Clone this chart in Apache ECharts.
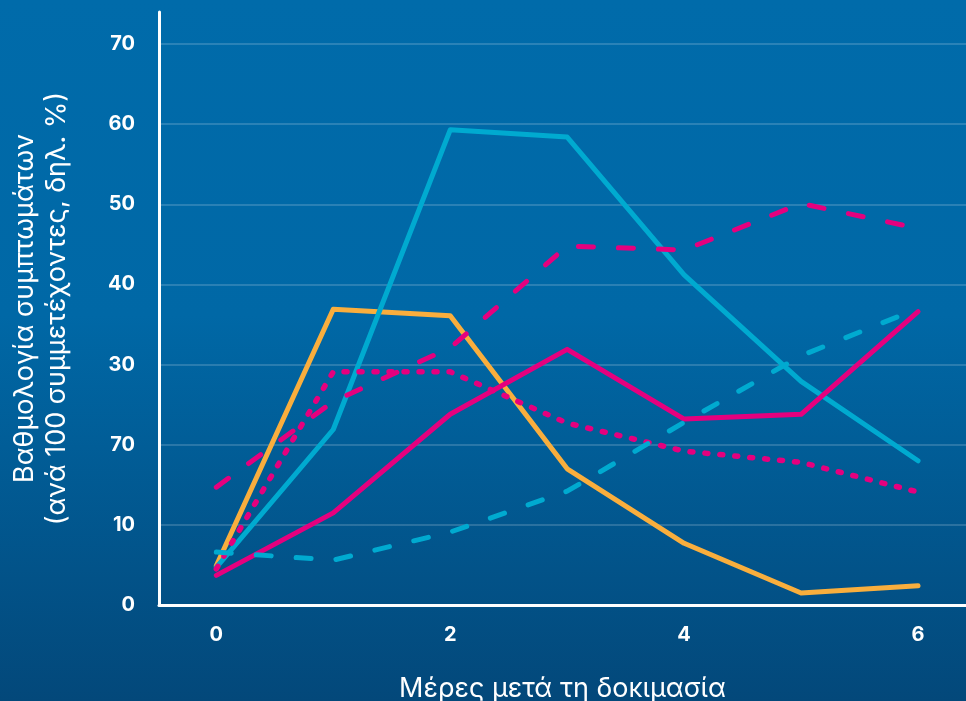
<!DOCTYPE html>
<html>
<head>
<meta charset="utf-8">
<script src="https://cdn.jsdelivr.net/npm/echarts@6/dist/echarts.min.js"></script>
<style>
html,body{margin:0;padding:0;width:966px;height:701px;overflow:hidden;}
#chart{width:966px;height:701px;}
</style>
</head>
<body>
<div id="chart"></div>
<script>
// Days after test
const days = [0, 1, 2, 3, 4, 5, 6];
const xTickValues = [0, 2, 4, 6];
// y tick labels as printed in the reference (third label is printed "70")
const yTickValues = [0, 10, 20, 30, 40, 50, 60, 70];
const yTickLabels = ['0', '10', '70', '30', '40', '50', '60', '70'];

// Series values (symptom score per 100 participants)
const orangeSolid = [4.9, 36.9, 36.1, 17.0, 7.7, 1.5, 2.4];
const cyanSolid   = [4.7, 21.9, 59.3, 58.4, 41.2, 27.9, 18.0];
const pinkSolid   = [3.7, 11.5, 23.8, 31.9, 23.2, 23.8, 36.6];
const pinkDashed  = [14.7, 25.4, 32.1, 44.8, 44.3, 50.1, 47.0];
const pinkDotted  = [4.5, 29.1, 29.1, 22.7, 19.2, 17.8, 14.1];
const cyanDashed  = [6.6, 5.6, 9.1, 14.2, 22.8, 31.1, 37.0];

const xTitle = 'Μέρες μετά τη δοκιμασία';
const yTitle = 'Βαθμολογία συμπτωμάτων\n(ανά 100 συμμετέχοντες, δηλ. %)';

const ORANGE = '#F9AE3D', CYAN = '#00AAD0', PINK = '#E5007E';
const FONT = 'Inter, "Noto Sans", sans-serif';

function pairs(arr){ return days.map((d,i)=>[d, arr[i]]); }
function line(name, arr, color, dash, z, w){
  return {
    name, type:'line', data:pairs(arr), symbol:'none', z,
    lineStyle:{color, width:w || 5, type: dash || 'solid', cap:'round', join:'round'},
    emphasis:{disabled:true}, animation:false
  };
}

const chart = echarts.init(document.getElementById('chart'));
chart.setOption({
  backgroundColor: new echarts.graphic.LinearGradient(0,0,0,1,[
    {offset:0, color:'#006BAA'},
    {offset:0.45, color:'#0068A6'},
    {offset:1, color:'#03487A'}
  ]),
  animation:false,
  grid:{left:159, right:0, top:12, bottom:96, containLabel:false, outerBoundsMode:'none'},
  xAxis:{
    type:'value', min:-0.49, max:6.41,
    axisLine:{show:true, onZero:true, lineStyle:{color:'#fff', width:3}},
    axisTick:{show:false},
    splitLine:{show:false},
    axisLabel:{customValues:xTickValues, color:'#fff', fontWeight:'bold', fontSize:20, fontFamily:FONT, margin:20},
    name:xTitle, nameLocation:'middle', nameGap:70,
    nameTextStyle:{color:'#fff', fontSize:27, fontFamily:FONT}
  },
  yAxis:{
    type:'value', min:0, max:74, interval:10,
    axisLine:{show:true, onZero:false, lineStyle:{color:'#fff', width:3}},
    axisTick:{show:false},
    splitLine:{show:true, showMinLine:false, showMaxLine:false, lineStyle:{color:'rgba(255,255,255,0.22)', width:1.5}},
    axisLabel:{
      customValues:yTickValues,
      formatter:(v)=>{ const i = yTickValues.indexOf(v); return i>=0 ? yTickLabels[i] : ''; },
      color:'#fff', fontWeight:'bold', fontSize:20, fontFamily:FONT, margin:24
    },
    name:yTitle, nameLocation:'middle', nameRotate:90, nameGap:86,
    nameTextStyle:{color:'#fff', fontSize:27, fontFamily:FONT, lineHeight:32, align:'center'}
  },
  series:[
    line('orange', orangeSolid, ORANGE, 'solid', 2),
    line('cyan', cyanSolid, CYAN, 'solid', 3),
    line('pink', pinkSolid, PINK, 'solid', 4),
    line('pinkDashed', pinkDashed, PINK, [15,25], 5),
    line('pinkDotted', pinkDotted, PINK, [3,12], 6, 5.5),
    line('cyanDashed', cyanDashed, CYAN, [15,25], 7)
  ]
});
</script>
</body>
</html>
